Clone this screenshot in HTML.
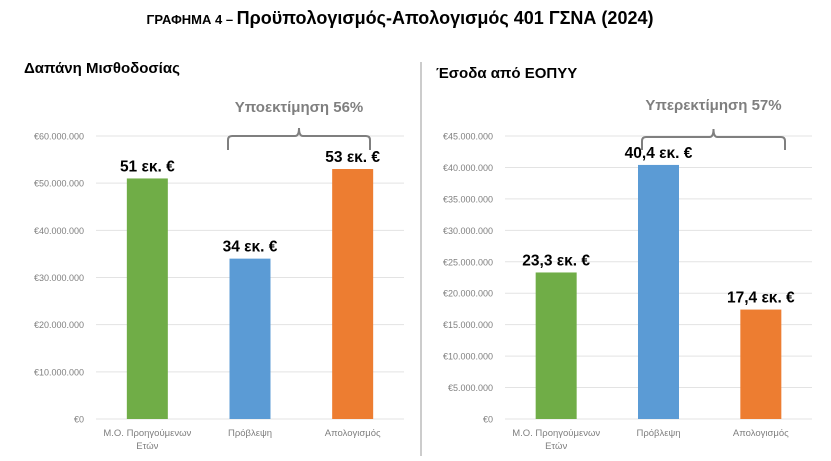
<!DOCTYPE html>
<html><head><meta charset="utf-8"><style>
body{margin:0;background:#fff;width:831px;height:456px;overflow:hidden;font-family:"Liberation Sans","DejaVu Sans",sans-serif;}
</style></head><body>
<svg id="svg" width="831" height="456" xmlns="http://www.w3.org/2000/svg">
<text x="400" y="24" text-anchor="middle" font-weight="bold" fill="#000"><tspan font-size="13">ΓΡΑΦΗΜΑ 4 – </tspan><tspan font-size="18">Προϋπολογισμός-Απολογισμός 401 ΓΣΝΑ (2024)</tspan></text>
<text x="24" y="73" font-size="15" font-weight="bold" fill="#000">Δαπάνη Μισθοδοσίας</text>
<text x="436" y="78" font-size="15" font-weight="bold" fill="#000">Έσοδα από ΕΟΠΥΥ</text>
<line x1="421" y1="62" x2="421" y2="456" stroke="#bbb" stroke-width="1.5"/>
</svg>
<script>
const categories = ["Μ.Ο. Προηγούμενων|Ετών", "Πρόβλεψη", "Απολογισμός"];
const leftValues = [51000000, 34000000, 53000000];
const leftLabels = ["51 εκ. €", "34 εκ. €", "53 εκ. €"];
const leftTicks = ["€0","€10.000.000","€20.000.000","€30.000.000","€40.000.000","€50.000.000","€60.000.000"];
const rightValues = [23300000, 40400000, 17400000];
const rightLabels = ["23,3 εκ. €", "40,4 εκ. €", "17,4 εκ. €"];
const rightTicks = ["€0","€5.000.000","€10.000.000","€15.000.000","€20.000.000","€25.000.000","€30.000.000","€35.000.000","€40.000.000","€45.000.000"];
const colors = ["#70ad47", "#5b9bd5", "#ed7d31"];
const svg = document.getElementById('svg');
const NS = "http://www.w3.org/2000/svg";
function mk(tag, attrs, txt){const e=document.createElementNS(NS,tag);for(const k in attrs)e.setAttribute(k,attrs[k]);if(txt!==undefined)e.textContent=txt;svg.appendChild(e);return e;}
function drawChart(p, vals, labels, ticks, step, side){
  const y0=419, yTop=136, max=step*(ticks.length-1);
  const y=v=>y0-(v/max)*(y0-yTop);
  const band=(p.x2-p.x1)/categories.length;
  const x=i=>p.x1+band*(i+0.5);
  ticks.forEach((t,i)=>{
    const yy=y(i*step);
    const g=mk('line',{x1:p.x1,x2:p.x2,y1:yy,y2:yy,stroke:'#e3e3e3','stroke-width':1});
    
    
    const tl=mk('text',{x:p.x1-12,y:yy+3.5,'font-size':9,fill:'#7f7f7f','text-anchor':'end'},t);
    
    
  });
  vals.forEach((v,i)=>{
    const r=mk('rect',{x:x(i)-20.5,y:y(v),width:41,height:y0-y(v),fill:colors[i]});
    
    
    const l=mk('text',{x:x(i),y:y(v)-7,'font-size':15.5,'font-weight':'bold',fill:'#000','text-anchor':'middle'},labels[i]);
    
    
    categories[i].split('|').forEach((ln,j)=>{
      const c=mk('text',{x:x(i),y:436+j*13,'font-size':9.5,fill:'#7f7f7f','text-anchor':'middle'},ln);
      
      
    });
  });
  return x;
}
const xl=drawChart({x1:96,x2:404},leftValues,leftLabels,leftTicks,10000000,'left');
const xr=drawChart({x1:505,x2:812},rightValues,rightLabels,rightTicks,5000000,'right');
function brace(x1,x2,yTop,yBot,label,ly,side){
  const c=(x1+x2)/2;
  const d=`M${x1},${yBot} L${x1},${yTop+4} Q${x1},${yTop} ${x1+4},${yTop} L${c-4},${yTop} Q${c},${yTop} ${c},${yTop-8} Q${c},${yTop} ${c+4},${yTop} L${x2-4},${yTop} Q${x2},${yTop} ${x2},${yTop+4} L${x2},${yBot}`;
  const b=mk('path',{d:d,fill:'none',stroke:'#7f7f7f','stroke-width':2});
  
  
  const t=mk('text',{x:c,y:ly,'font-size':15,'font-weight':'bold',fill:'#7f7f7f','text-anchor':'middle'},label);
  
  
}
brace(228,370,136,150,'Υποεκτίμηση 56%',112,'left');
brace(642,785,137,150,'Υπερεκτίμηση 57%',110,'right');
</script>
</body></html>
